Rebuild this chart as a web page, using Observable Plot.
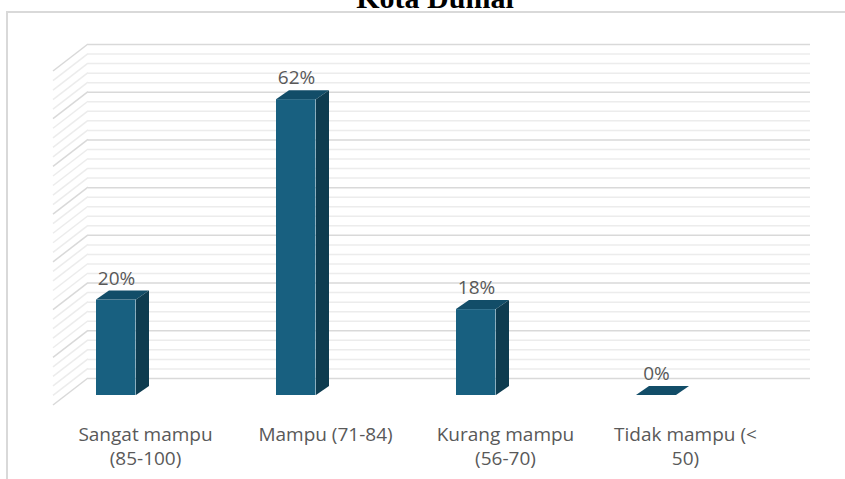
<!DOCTYPE html>
<html><head><meta charset="utf-8">
<script src="https://cdn.jsdelivr.net/npm/d3@7"></script>
<script src="https://cdn.jsdelivr.net/npm/@observablehq/plot@0.6"></script>
<style>
body{margin:0;background:#fff;}
#wrap{position:relative;width:845px;height:479px;overflow:hidden;background:#fff;}
#title{position:absolute;left:0;width:870px;text-align:center;top:-19px;line-height:30px;font:bold 30px "Liberation Serif";color:#000;}
#frame{position:absolute;left:6px;top:11px;width:900px;height:600px;border:2px solid #d9d9d9;}
#chart{position:absolute;left:0;top:0;}
</style></head>
<body><div id="wrap"><div id="frame"></div><div id="title">Kota Dumai</div><div id="chart"></div></div>
<script>
const categories = ["Sangat mampu\n(85-100)", "Mampu (71-84)", "Kurang mampu\n(56-70)", "Tidak mampu (<\n50)"];
const values = [20, 62, 18, 0];
const valueLabels = ["20%", "62%", "18%", "0%"];
const gridTicks = d3.range(0, 71, 2);
const majorTicks = d3.range(0, 71, 10);

const data = categories.map((c, i) => ({cat: c, value: values[i], label: valueLabels[i]}));

const DEPTH_X = 13, DEPTH_Y = -9, FRONT = 17, BAR_W = 40, BAR_OFF = 7;

const wall = (index, scales, values, dims) => {
  const g = d3.create("svg:g");
  const y = scales.y, x0 = dims.marginLeft;
  g.selectAll("line").data(gridTicks).join("line")
    .attr("x1", x0).attr("y1", d => y(d))
    .attr("x2", x0 - 35).attr("y2", d => y(d) + 27)
    .attr("stroke", d => d % 10 === 0 ? "#d9d9d9" : "#ececec")
    .attr("stroke-width", 1.5);
  return g.node();
};

const faces = (index, scales) => {
  const g = d3.create("svg:g");
  const x = scales.x, y = scales.y;
  data.forEach(d => {
    const L = x(d.cat) + BAR_OFF, R = L + BAR_W, T = y(d.value) + FRONT, B = y(0) + FRONT;
    g.append("path")
      .attr("d", `M${L},${T}L${L + DEPTH_X},${T + DEPTH_Y}L${R + DEPTH_X},${T + DEPTH_Y}L${R},${T}Z`)
      .attr("fill", "#124d68");
    if (d.value > 0) {
      g.append("path")
        .attr("d", `M${R},${T}L${R + DEPTH_X},${T + DEPTH_Y}L${R + DEPTH_X},${B + DEPTH_Y}L${R},${B}Z`)
        .attr("fill", "#0e3c50");
    }
  });
  return g.node();
};

const plot = Plot.plot({
  width: 845, height: 479,
  marginLeft: 88, marginRight: 35, marginTop: 44, marginBottom: 101,
  x: {domain: categories, padding: 0, axis: null},
  y: {domain: [0, 70], axis: null},
  style: {background: "transparent", fontFamily: "'Open Sans'", overflow: "visible"},
  marks: [
    Plot.ruleY(gridTicks.filter(t => t % 10 !== 0), {y: d => d, stroke: "#ececec", strokeWidth: 1.5}),
    Plot.ruleY(majorTicks, {y: d => d, stroke: "#d9d9d9", strokeWidth: 1.5}),
    wall,
    Plot.barY(data, {x: "cat", y: "value", fill: "#186080", insetLeft: BAR_OFF, insetRight: 180.5 - BAR_OFF - BAR_W, dy: FRONT}),
    faces,
    Plot.text(data, {x: "cat", y: "value", text: "label", dx: -63, dy: 1.5, lineAnchor: "bottom", fontSize: 19, fill: "#595959"}),
    Plot.text(data, {x: "cat", y: 0, text: "cat", dx: -34, dy: 45.5, lineAnchor: "top", fontSize: 19, lineHeight: 1.26, fill: "#595959"})
  ]
});
document.getElementById("chart").appendChild(plot);
</script>
</body></html>
